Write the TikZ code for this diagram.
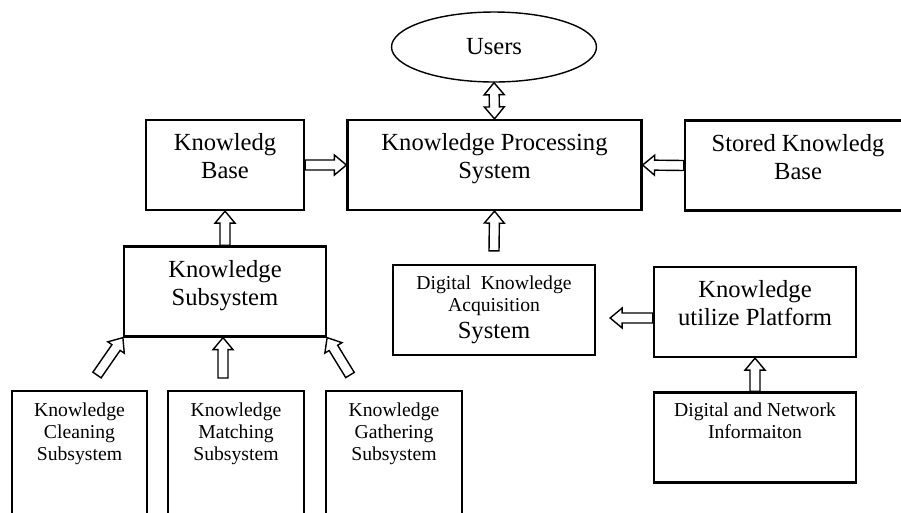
\documentclass[tikz,border=0pt]{standalone}
\usepackage{fontspec}
\setmainfont{Liberation Serif}
\usetikzlibrary{calc, positioning, shapes.geometric}

\newcommand{\bigtxt}{\fontsize{14}{16}\selectfont}
\newcommand{\smalltxt}{\fontsize{11.2}{12.6}\selectfont}

\tikzset{
  box/.style={draw, line width=1.3pt, align=center, font=\bigtxt,
    minimum width=4.04cm, minimum height=1.8cm},
  lift/.style={text depth=10pt},
  subbox/.style={draw, line width=1.3pt, minimum width=2.72cm, minimum height=2.8cm},
  toptext/.style={anchor=north, align=center, font=\smalltxt},
  % outlined block arrow from start to target
  hollow/.style={fill=white, line width=0.8pt,
    to path={let \p1=(\tikztostart), \p2=(\tikztotarget),
      \n1={atan2(\y2-\y1,\x2-\x1)}, \n2={veclen(\x2-\x1,\y2-\y1)-0.24cm} in
      ($(\p1)+(\n1+90:0.1cm)$) -- ($(\p1)+(\n1:\n2)+(\n1+90:0.1cm)$)
      -- ($(\p1)+(\n1:\n2)+(\n1+90:0.2cm)$) -- (\p2)
      -- ($(\p1)+(\n1:\n2)+(\n1-90:0.2cm)$) -- ($(\p1)+(\n1:\n2)+(\n1-90:0.1cm)$)
      -- ($(\p1)+(\n1-90:0.1cm)$) -- cycle}},
  % same, with a head at both ends
  hollowboth/.style={fill=white, line width=0.8pt,
    to path={let \p1=(\tikztostart), \p2=(\tikztotarget),
      \n1={atan2(\y2-\y1,\x2-\x1)}, \n2={veclen(\x2-\x1,\y2-\y1)-0.24cm} in
      (\p1) -- ($(\p1)+(\n1:0.24cm)+(\n1+90:0.2cm)$) -- ($(\p1)+(\n1:0.24cm)+(\n1+90:0.1cm)$)
      -- ($(\p1)+(\n1:\n2)+(\n1+90:0.1cm)$) -- ($(\p1)+(\n1:\n2)+(\n1+90:0.2cm)$) -- (\p2)
      -- ($(\p1)+(\n1:\n2)+(\n1-90:0.2cm)$) -- ($(\p1)+(\n1:\n2)+(\n1-90:0.1cm)$)
      -- ($(\p1)+(\n1:0.24cm)+(\n1-90:0.1cm)$) -- ($(\p1)+(\n1:0.24cm)+(\n1-90:0.2cm)$) -- cycle}},
}

\begin{document}
\begin{tikzpicture}[x=0.02cm, y=-0.02cm]
  \useasboundingbox[fill=white] (0,0) rectangle (901,512);

  % top row
  \node[ellipse, draw, line width=0.8pt, minimum width=4.1cm, minimum height=1.4cm, font=\bigtxt] (users) at (494,47) {Users};
  \node[box, lift, minimum width=5.88cm] (kps) at (494.5,165) {Knowledge Processing\\System};
  \node[box, lift, minimum width=3.16cm] (kb) at (225,165) {Knowledg\\Base};
  \node[box, lift, minimum width=4.52cm] (skb) at (798,165.5) {Stored Knowledg\\Base};

  % middle row
  \node[box, lift] (ks) at (225,291.5) {Knowledge\\Subsystem};
  \node[box, font=\smalltxt] (dkas) at (494,310) {Digital\ \ Knowledge\\Acquisition\\[3pt]{\bigtxt System}};
  \node[box, lift] (kup) at (755,312) {Knowledge\\utilize Platform};
  \node[box, label={[toptext, yshift=-0.11cm]north:{Digital and Network\\Informaiton}}] (dni) at (755,437.5) {};

  % subsystems, running off the bottom
  \node[subbox, minimum width=2.7cm, label={[toptext, yshift=-0.13cm]north:{Knowledge\\Cleaning\\Subsystem}}] (clean) at (79.5,461) {};
  \node[subbox, label={[toptext, yshift=-0.13cm]north:{Knowledge\\Matching\\Subsystem}}] (match) at (236,461) {};
  \node[subbox, label={[toptext, yshift=-0.13cm]north:{Knowledge\\Gathering\\Subsystem}}] (gather) at (394,461) {};

  \coordinate (dkasup) at ($(dkas.north)+(0,-13)$);
  \coordinate (dkasin) at ($(dkas.east)+(14,8)$);
  \coordinate (cleanup) at (97,375);
  \coordinate (matchup) at (223,378);
  \coordinate (gatherup) at (350,375);

  \draw[hollowboth] (users.south) to (kps.north);
  \draw[hollow] (kb.east) to (kps.west);
  \draw[hollow] (skb.west) to (kps.east);
  \draw[hollow] (dkasup) to (kps.south);
  \draw[hollow] (ks.north) to (kb.south);
  \draw[hollow] (kup.west |- dkasin) to (dkasin);
  \draw[hollow] (dni.north) to (kup.south);
  \draw[hollow] (cleanup) to (ks.south west);
  \draw[hollow] (matchup) to (matchup |- ks.south);
  \draw[hollow] (gatherup) to (ks.south east);
\end{tikzpicture}
\end{document}
